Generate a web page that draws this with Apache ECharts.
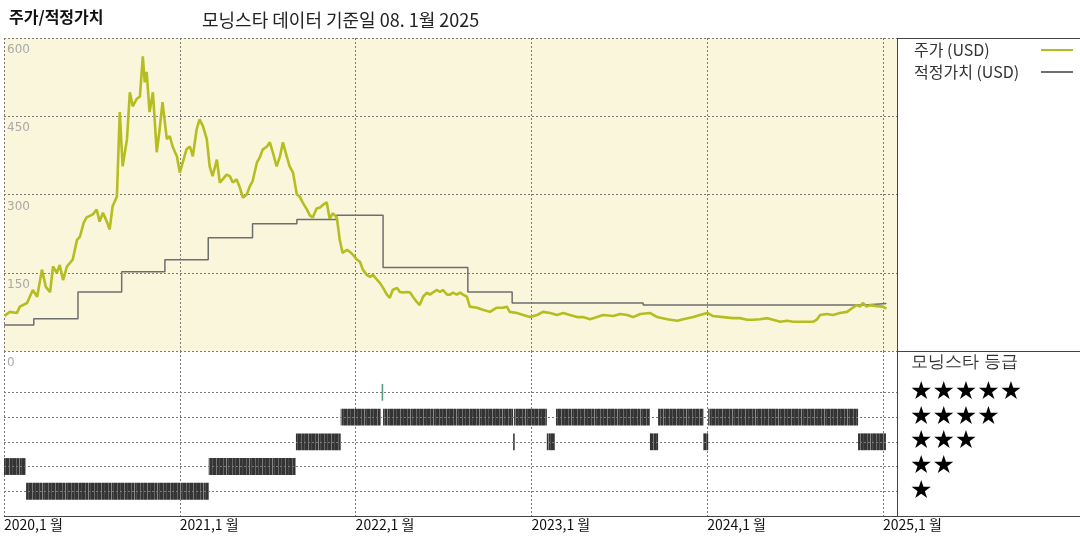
<!DOCTYPE html>
<html>
<head>
<meta charset="utf-8">
<script src="https://cdn.jsdelivr.net/npm/echarts@6/dist/echarts.min.js"></script>
<style>
html,body{margin:0;padding:0;background:#fff;}
#chart{width:1080px;height:540px;}
</style>
</head>
<body>
<div id="chart"></div>
<script>
// ---- data ----
const priceDates = [
'2020-01-02','2020-01-13','2020-01-28','2020-02-03','2020-02-18','2020-03-01','2020-03-10','2020-03-20','2020-03-28','2020-04-06',
'2020-04-12','2020-04-20','2020-04-26','2020-05-03','2020-05-11','2020-05-23','2020-06-01','2020-06-07','2020-06-15','2020-06-21',
'2020-07-04','2020-07-12','2020-07-18','2020-07-25','2020-08-02','2020-08-08','2020-08-14','2020-08-23','2020-08-29','2020-09-04',
'2020-09-13','2020-09-19','2020-09-25','2020-10-03','2020-10-10','2020-10-16','2020-10-20','2020-10-24','2020-10-30','2020-11-06',
'2020-11-14','2020-11-20','2020-11-26','2020-12-05','2020-12-11','2020-12-17','2020-12-26','2021-01-01','2021-01-07','2021-01-15',
'2021-01-22','2021-01-28','2021-02-05','2021-02-11','2021-02-18','2021-02-26','2021-03-04','2021-03-10','2021-03-19','2021-03-25',
'2021-03-31','2021-04-08','2021-04-15','2021-04-21','2021-04-29','2021-05-05','2021-05-12','2021-05-20','2021-05-26','2021-06-01',
'2021-06-10','2021-06-16','2021-06-22','2021-07-01','2021-07-07','2021-07-13','2021-07-21','2021-07-28','2021-08-03','2021-08-11',
'2021-08-17','2021-08-24','2021-09-01','2021-09-07','2021-09-13','2021-09-22','2021-09-28','2021-10-04','2021-10-12','2021-10-19',
'2021-10-25','2021-11-02','2021-11-08','2021-11-15','2021-11-23','2021-11-29','2021-12-05','2021-12-14','2021-12-20','2021-12-26',
'2022-01-04','2022-01-10','2022-01-16','2022-01-24','2022-01-31','2022-02-06','2022-02-14','2022-02-20','2022-02-27','2022-03-07',
'2022-03-13','2022-03-19','2022-03-28','2022-04-03','2022-04-09','2022-04-17','2022-04-24','2022-04-30','2022-05-08','2022-05-14',
'2022-05-21','2022-05-29','2022-06-04','2022-06-10','2022-06-19','2022-06-25','2022-07-01','2022-07-10','2022-07-16','2022-07-22',
'2022-07-30','2022-08-06','2022-08-12','2022-08-20','2022-08-26','2022-09-10','2022-09-22','2022-10-07','2022-10-21','2022-11-03',
'2022-11-11','2022-11-17','2022-12-02','2022-12-15','2022-12-29','2023-01-13','2023-01-25','2023-02-09','2023-02-23','2023-03-08',
'2023-03-22','2023-04-06','2023-04-18','2023-05-03','2023-05-17','2023-05-30','2023-06-20','2023-07-04','2023-07-19','2023-07-31',
'2023-08-15','2023-09-04','2023-09-19','2023-10-10','2023-10-31','2023-11-12','2023-12-03','2023-12-17','2024-01-01','2024-01-13',
'2024-02-03','2024-02-24','2024-03-09','2024-03-24','2024-04-05','2024-04-20','2024-05-05','2024-05-17','2024-06-01','2024-06-15',
'2024-06-28','2024-07-12','2024-07-27','2024-08-08','2024-08-16','2024-08-23','2024-09-06','2024-09-19','2024-10-03','2024-10-18',
'2024-10-30','2024-11-07','2024-11-14','2024-11-20','2024-11-28','2024-12-05','2024-12-19','2025-01-01','2025-01-08'
];
const priceValues = [
67,75,73,85,92,117,104,156,123,113,
162,150,165,136,162,175,213,219,246,256,
262,271,248,265,248,233,277,296,458,354,
406,496,469,483,488,565,515,535,458,496,
381,425,477,406,412,392,373,342,361,387,
392,373,425,444,431,406,354,335,367,323,
329,338,335,323,329,315,294,300,315,325,
361,371,386,392,400,381,354,373,400,373,
354,342,300,296,285,271,260,256,273,275,
280,285,254,264,256,213,188,194,190,185,
175,171,156,146,142,146,137,131,121,108,
102,117,121,113,112,113,112,104,94,88,
104,112,108,112,117,113,117,108,108,112,
108,112,108,104,85,83,79,75,83,83,
85,75,73,69,65,69,75,73,69,73,
69,65,65,61,65,69,67,71,69,65,
71,73,65,61,58,61,65,69,73,67,
65,63,63,60,60,61,63,60,56,58,
56,56,56,56,60,69,71,69,73,75,
83,88,85,92,85,88,86,85,81
];

const fairDates  = ['2020-01-01','2020-03-03','2020-06-03','2020-09-02','2020-12-01','2021-03-01','2021-06-01','2021-09-01','2021-11-22','2022-02-27','2022-08-22','2022-11-22','2023-08-21','2024-11-24','2025-01-08'];
const fairValues = [50,62,113,152,175,217,244,252,260,160,113,92,88,91,91];

const ratingStart = ['2020-01-01','2020-02-16','2021-03-02','2021-08-30','2021-12-01','2022-02-24','2022-02-27','2022-11-24','2022-11-26','2023-02-02','2023-02-21','2023-09-04','2023-09-21','2023-12-24','2024-01-03','2024-11-10'];
const ratingEnd   = ['2020-02-15','2021-03-02','2021-08-30','2021-12-01','2022-02-22','2022-02-25','2022-11-24','2022-11-25','2023-02-02','2023-02-19','2023-09-04','2023-09-21','2023-12-24','2024-01-03','2024-11-10','2025-01-07'];
const ratingStars = [2,1,2,3,4,5,4,3,4,3,4,3,4,3,4,3];

const yearTicks = [2020,2021,2022,2023,2024,2025];
const priceTicks = [0,150,300,450,600];

const seriesNames = ['주가 (USD)','적정가치 (USD)'];
const mainTitle = '주가/적정가치';
const subTitle = '모닝스타 데이터 기준일 08. 1월 2025';
const ratingTitle = '모닝스타 등급';

// ---- helpers ----
function toYear(s){
  const d = new Date(s + 'T00:00:00Z');
  const y = d.getUTCFullYear();
  const a = Date.UTC(y,0,1), b = Date.UTC(y+1,0,1);
  return y + (d.getTime() - a) / (b - a);
}
const xMin = yearTicks[0];
const xMax = toYear('2025-01-30');

const priceData = priceDates.map((d,i)=>[toYear(d), priceValues[i]]);
const fairData  = fairDates.map((d,i)=>[toYear(d), fairValues[i]]);
const ratingData = ratingStars.map((s,i)=>[toYear(ratingStart[i]), toYear(ratingEnd[i]), s]);

// striped texture for the rating blocks (looks like many daily bars)
function makeStripe(){
  const c = document.createElement('canvas');
  c.width = 23; c.height = 4;
  const g = c.getContext('2d');
  g.fillStyle = '#343434'; g.fillRect(0,0,23,4);
  const light = [[2,'#6a6a6a'],[5,'#555'],[9,'#7a7a7a'],[12,'#4a4a4a'],[16,'#666'],[19,'#888'],[21,'#505050']];
  light.forEach(([x,col])=>{ g.fillStyle = col; g.fillRect(x,0,1,4); });
  return c;
}
const stripe = makeStripe();

const FONT = '"Noto Sans CJK KR", "Noto Sans", sans-serif';
const dash = {color:'#7a7a7a', width:1, type:[2,2]};

const chart = echarts.init(document.getElementById('chart'), null, {renderer:'canvas'});

const option = {
  animation:false,
  backgroundColor:'#ffffff',
  textStyle:{fontFamily:FONT},
  title:[
    {text:mainTitle, left:4, top:4, textStyle:{fontSize:16, fontWeight:'bold', color:'#111', fontFamily:FONT}},
    {text:subTitle, left:197, top:6, textStyle:{fontSize:18, fontWeight:'normal', color:'#222', fontFamily:FONT}}
  ],
  legend:{
    left:909, top:37, orient:'vertical', align:'right',
    icon:'rect', itemWidth:32, itemHeight:2, itemGap:6,
    formatter: name => '{a|' + name + '}',
    textStyle:{rich:{a:{width:122, align:'left', fontSize:16, color:'#333', fontFamily:FONT, lineHeight:21}}},
    data:seriesNames
  },
  grid:[
    {left:4, right:183, top:38, height:313, show:true, backgroundColor:'#faf6dc', borderWidth:0},
    {left:4, right:183, top:351, height:165, show:false}
  ],
  xAxis:[
    {type:'value', gridIndex:0, min:xMin, max:xMax, interval:1,
     axisLine:{show:false}, axisTick:{show:false}, axisLabel:{show:false},
     splitLine:{show:true, lineStyle:dash}},
    {type:'value', gridIndex:1, min:xMin, max:xMax, interval:1,
     axisLine:{show:false}, axisTick:{show:false},
     axisLabel:{show:true, align:'left', margin:2, fontSize:14, color:'#111', fontFamily:FONT,
       formatter:v=> yearTicks.indexOf(v)>=0 ? (v+',1 월') : ''},
     splitLine:{show:true, lineStyle:dash}}
  ],
  yAxis:[
    {type:'value', gridIndex:0, min:priceTicks[0], max:priceTicks[priceTicks.length-1], interval:150,
     axisLine:{show:false}, axisTick:{show:false},
     axisLabel:{inside:true, verticalAlign:'top', margin:3, padding:[6,0,0,0], fontSize:12, color:'#a8a8a8', fontFamily:'"DejaVu Sans", sans-serif'},
     splitLine:{show:true, lineStyle:dash}},
    {type:'value', gridIndex:1, min:0, max:6.67, interval:1, position:'right',
     axisLine:{show:false}, axisTick:{show:false},
     axisLabel:{show:true, margin:13, fontSize:25, color:'#000', fontFamily:'"DejaVu Sans", sans-serif',
       formatter:v=> (Number.isInteger(v) && v>=1 && v<=5) ? '★'.repeat(v) : ''},
     splitLine:{show:false}}
  ],
  series:[
    {name:seriesNames[0], type:'line', xAxisIndex:0, yAxisIndex:0, data:priceData,
     showSymbol:false, symbol:'none', lineStyle:{color:'#b5bd20', width:2.6}, itemStyle:{color:'#b5bd20'}, z:3},
    {name:seriesNames[1], type:'line', xAxisIndex:0, yAxisIndex:0, data:fairData, step:'end',
     showSymbol:false, symbol:'none', lineStyle:{color:'#6e6e6e', width:1.5}, itemStyle:{color:'#6e6e6e'}, z:2},
    {name:'rating', type:'custom', xAxisIndex:1, yAxisIndex:1, data:ratingData,
     encode:{x:[0,1], y:2},
     renderItem:function(params, api){
       const s = api.value(2);
       const p0 = api.coord([api.value(0), s]);
       const p1 = api.coord([api.value(1), s]);
       const h = api.size([0, 0.68])[1];
       const w = Math.max(p1[0]-p0[0], 1.6);
       return {type:'rect', shape:{x:p0[0], y:p0[1]-h/2, width:w, height:h},
               style:{fill: s===5 ? '#5c9a80' : (w < 4 ? '#3a3a3a' : {image:stripe, repeat:'repeat'}), stroke:null}};
     },
     markLine:{silent:true, symbol:'none', label:{show:false}, lineStyle:dash,
       data:[{yAxis:1},{yAxis:2},{yAxis:3},{yAxis:4},{yAxis:5}]},
     z:2}
  ],
  graphic:[
    {type:'text', left:911, top:354, style:{text:ratingTitle, fontSize:17, fill:'#333', font:'17px "Noto Sans CJK KR"'}},
    {type:'line', shape:{x1:897.5, y1:38, x2:897.5, y2:516}, style:{stroke:'#444', lineWidth:1}, z:10},
    {type:'line', shape:{x1:897, y1:38.5, x2:1080, y2:38.5}, style:{stroke:'#444', lineWidth:1}, z:10},
    {type:'line', shape:{x1:897, y1:351.5, x2:1080, y2:351.5}, style:{stroke:'#444', lineWidth:1}, z:10},
    {type:'line', shape:{x1:4, y1:516.5, x2:1080, y2:516.5}, style:{stroke:'#444', lineWidth:1}, z:10}
  ]
};
chart.setOption(option);
</script>
</body>
</html>
